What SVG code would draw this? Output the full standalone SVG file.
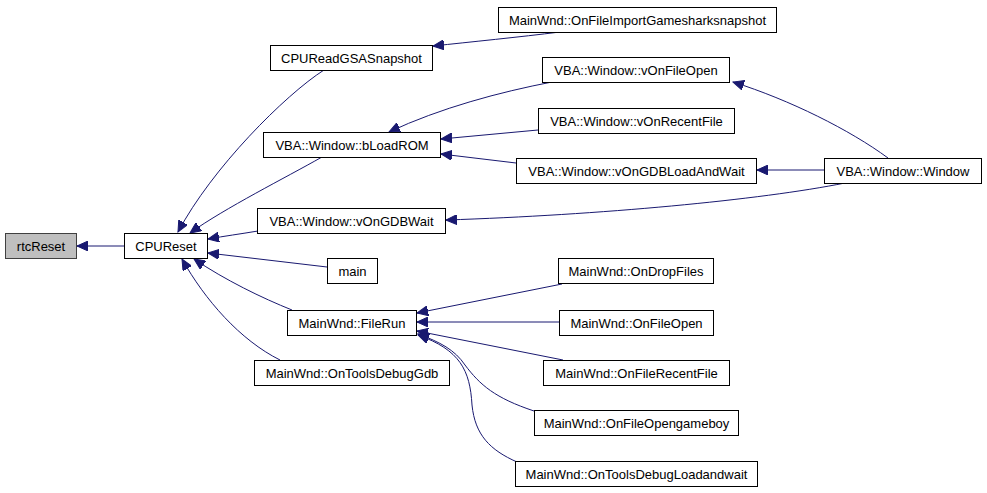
<svg xmlns="http://www.w3.org/2000/svg" width="987" height="493" viewBox="0 0 987 493">
<style>
.n rect{fill:#ffffff;stroke:#000000;stroke-width:1}
.n.root rect{fill:#bfbfbf;stroke:#404040}
.n text{font-family:"Liberation Sans",Arial,sans-serif;font-size:13px;fill:#000000;text-anchor:middle}
.e path{fill:none;stroke:#191970;stroke-width:1}
</style>
<defs>
<marker id="ah" markerUnits="userSpaceOnUse" markerWidth="12" markerHeight="10" refX="11" refY="5" orient="auto">
<path d="M0,0 L11,5 L0,10 z" fill="#191970" stroke="#191970" stroke-width="1"/>
</marker>
</defs>
<rect width="987" height="493" fill="#ffffff"/>
<g id="connectors" class="e">
<path marker-end="url(#ah)" d="M124,246 L77,246"/>
<path marker-end="url(#ah)" d="M324,70 C285,95 212,168 178,232"/>
<path marker-end="url(#ah)" d="M322,157 C285,178 225,208 190,233"/>
<path marker-end="url(#ah)" d="M258,231 C240,234 225,236 208,239"/>
<path marker-end="url(#ah)" d="M327,267 L208,253"/>
<path marker-end="url(#ah)" d="M292,310 C262,298 225,280 194,259"/>
<path marker-end="url(#ah)" d="M280,360 C240,340 205,300 182,259"/>
<path marker-end="url(#ah)" d="M560,32 C520,37 470,42 433,46"/>
<path marker-end="url(#ah)" d="M552,82 C500,92 440,108 389,132"/>
<path marker-end="url(#ah)" d="M538,130 L441,139"/>
<path marker-end="url(#ah)" d="M516,163 L441,154"/>
<path marker-end="url(#ah)" d="M888,158 C850,130 790,100 733,82"/>
<path marker-end="url(#ah)" d="M824,170 L757,170"/>
<path marker-end="url(#ah)" d="M845,183 C760,200 600,215 446,220"/>
<path marker-end="url(#ah)" d="M562,284 L417,313"/>
<path marker-end="url(#ah)" d="M559,322 L417,322"/>
<path marker-end="url(#ah)" d="M563,360 L417,331"/>
<path marker-end="url(#ah)" d="M534,411 C495,398 480,385 465,365 C455,350 440,342 418,334"/>
<path marker-end="url(#ah)" d="M517,462 C490,450 475,435 472,405 C470,370 460,350 418,335"/>
</g>
<g id="rtcReset" class="n root"><rect x="5.5" y="233.5" width="71" height="25"/><text x="41" y="250.5">rtcReset</text></g>
<g id="CPUReset" class="n"><rect x="124.5" y="233.5" width="83" height="25"/><text x="166" y="250.5">CPUReset</text></g>
<g id="OnFileImportGamesharksnapshot" class="n"><rect x="498.5" y="7.5" width="278" height="25"/><text x="637.5" y="24.5">MainWnd::OnFileImportGamesharksnapshot</text></g>
<g id="CPUReadGSASnapshot" class="n"><rect x="270.5" y="45.5" width="162" height="25"/><text x="351.5" y="62.5">CPUReadGSASnapshot</text></g>
<g id="vOnFileOpen" class="n"><rect x="542.5" y="57.5" width="187" height="25"/><text x="636" y="74.5">VBA::Window::vOnFileOpen</text></g>
<g id="vOnRecentFile" class="n"><rect x="538.5" y="108.5" width="196" height="25"/><text x="636.5" y="125.5">VBA::Window::vOnRecentFile</text></g>
<g id="bLoadROM" class="n"><rect x="263.5" y="132.5" width="177" height="25"/><text x="352" y="149.5">VBA::Window::bLoadROM</text></g>
<g id="vOnGDBLoadAndWait" class="n"><rect x="516.5" y="158.5" width="240" height="25"/><text x="636.5" y="175.5">VBA::Window::vOnGDBLoadAndWait</text></g>
<g id="Window" class="n"><rect x="824.5" y="158.5" width="157" height="25"/><text x="903" y="175.5">VBA::Window::Window</text></g>
<g id="vOnGDBWait" class="n"><rect x="257.5" y="208.5" width="188" height="25"/><text x="351.5" y="225.5">VBA::Window::vOnGDBWait</text></g>
<g id="main" class="n"><rect x="327.5" y="258.5" width="50" height="25"/><text x="352.5" y="275.5">main</text></g>
<g id="OnDropFiles" class="n"><rect x="558.5" y="258.5" width="155" height="25"/><text x="636" y="275.5">MainWnd::OnDropFiles</text></g>
<g id="FileRun" class="n"><rect x="287.5" y="310.5" width="129" height="25"/><text x="352" y="327.5">MainWnd::FileRun</text></g>
<g id="OnFileOpen" class="n"><rect x="559.5" y="310.5" width="154" height="25"/><text x="636.5" y="327.5">MainWnd::OnFileOpen</text></g>
<g id="OnToolsDebugGdb" class="n"><rect x="254.5" y="360.5" width="195" height="25"/><text x="352" y="377.5">MainWnd::OnToolsDebugGdb</text></g>
<g id="OnFileRecentFile" class="n"><rect x="543.5" y="360.5" width="186" height="25"/><text x="636.5" y="377.5">MainWnd::OnFileRecentFile</text></g>
<g id="OnFileOpengameboy" class="n"><rect x="534.5" y="410.5" width="204" height="25"/><text x="636.5" y="427.5">MainWnd::OnFileOpengameboy</text></g>
<g id="OnToolsDebugLoadandwait" class="n"><rect x="515.5" y="461.5" width="242" height="25"/><text x="636.5" y="478.5">MainWnd::OnToolsDebugLoadandwait</text></g>
</svg>
